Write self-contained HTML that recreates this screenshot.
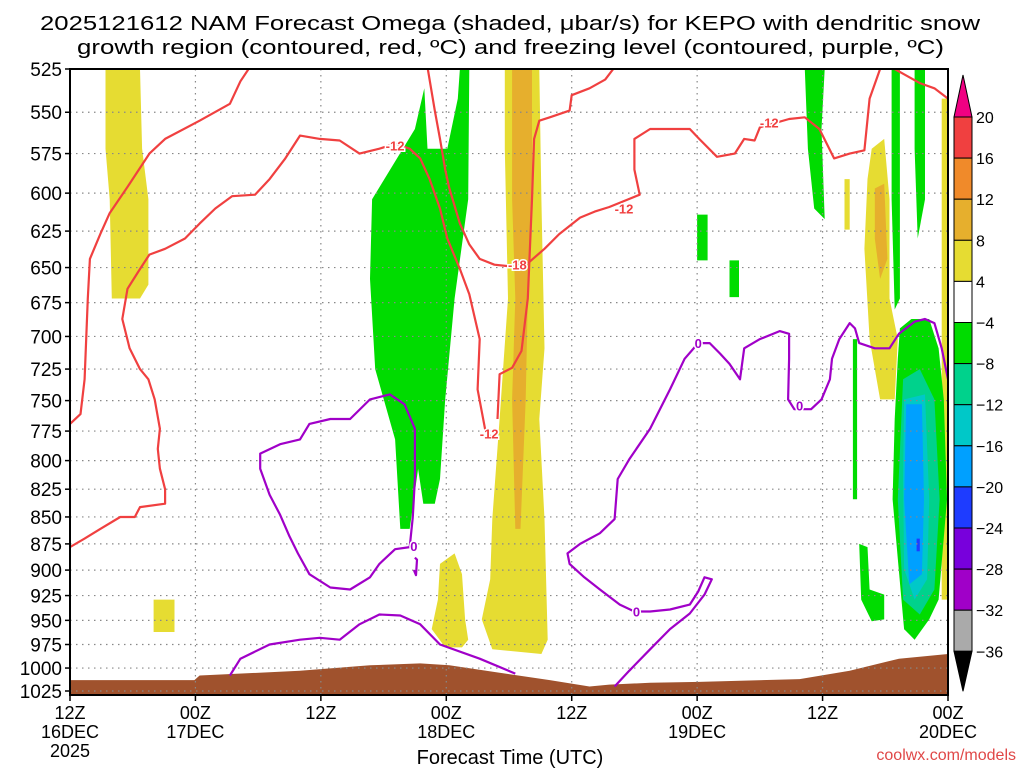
<!DOCTYPE html>
<html><head><meta charset="utf-8"><style>
html,body{margin:0;padding:0;background:#fff}
svg{display:block;font-family:"Liberation Sans","DejaVu Sans",sans-serif}
</style></head><body>
<svg id="chart" width="1024" height="768" viewBox="0 0 1024 768" xmlns="http://www.w3.org/2000/svg">
<defs><clipPath id="plotclip"><rect x="70" y="69" width="878" height="626"/></clipPath></defs>
<text x="40" y="30" font-size="20" textLength="940" lengthAdjust="spacingAndGlyphs">2025121612 NAM Forecast Omega (shaded, μbar/s) for KEPO with dendritic snow</text>
<text x="77" y="54" font-size="20" textLength="867" lengthAdjust="spacingAndGlyphs">growth region (contoured, red, ºC) and freezing level (contoured, purple, ºC)</text>
<g id="shading" clip-path="url(#plotclip)"></g>
<g id="ground" clip-path="url(#plotclip)"></g>
<g id="grid"></g>
<g id="contours" clip-path="url(#plotclip)"></g>
<g id="axes"></g>
<g id="colorbar"></g>
<text x="510" y="764" font-size="20" text-anchor="middle">Forecast Time (UTC)</text>
<text x="1016" y="760" font-size="16" text-anchor="end" fill="#e04848">coolwx.com/models</text>
</svg>
<script>
const pLevels=[525,550,575,600,625,650,675,700,725,750,775,800,825,850,875,900,925,950,975,1000,1025];
const timeHours=[0,12,24,36,48,60,72,84];
const timeLabels=[["12Z","16DEC","2025"],["00Z","17DEC"],["12Z"],["00Z","18DEC"],["12Z"],["00Z","19DEC"],["12Z"],["00Z","20DEC"]];
const cbLevels=[20,16,12,8,4,-4,-8,-12,-16,-20,-24,-28,-32,-36];
const cbColors=["#f04040","#f08a2a","#e6af2d","#e6dc32","#ffffff","#00dc00","#00d28c","#00c8c8","#00a0ff","#1e3cff","#7800dc","#a000c8","#aaaaaa"];
const yellowA=[[3.4,525],[6.7,525],[6.9,572],[7.5,604],[7.5,662],[6.7,672],[4.0,672],[3.8,604],[3.4,572]];
const yellowB=[[8.0,929],[10.0,929],[10.0,962],[8.0,962]];
const yellowC=[[35.4,894],[36.8,884],[37.5,904],[37.8,949],[38.1,970],[37.5,978],[35.9,978],[34.6,959],[35.2,929]];
const yellowD=[[41.6,525],[44.9,525],[45.1,604],[45.4,709],[44.9,765],[45.4,852],[45.7,970],[45.1,985],[40.4,980],[39.4,949],[40.2,909],[40.4,852],[41.1,765],[41.9,672],[41.6,572]];
const goldD=[[42.3,525],[44.2,525],[44.2,604],[43.8,672],[43.6,749],[43.1,861],[42.6,861],[42.3,749],[42.6,672],[42.3,604]];
const yellowE=[[76.7,572],[77.9,566],[78.4,604],[78.4,672],[79.2,702],[78.9,749],[77.5,749],[76.5,702],[76.0,637],[76.3,591]];
const goldE=[[77.0,597],[77.9,594],[78.2,644],[77.5,658],[77.0,630]];
const yellowF=[[74.1,591],[74.6,591],[74.6,624],[74.1,624]];
const yellowG=[[83.4,542],[84,542],[84,929],[83.4,929]];
const greenA=[[28.9,604],[33.0,560],[33.9,536],[34.2,572],[36.1,572],[37.1,542],[37.3,525],[38.2,525],[38.1,604],[36.8,672],[35.9,749],[35.4,816],[34.9,838],[33.8,838],[33.3,807],[32.5,861],[31.6,861],[31.1,782],[29.2,725],[28.7,658]];
const greenB=[[60,614],[61,614],[61,645],[60,645]];
const greenC=[[63.1,645],[64,645],[64,671],[63.1,671]];
const greenD=[[70.3,525],[72.2,525],[71.9,560],[72.2,617],[71.2,610],[70.6,572]];
const greenE=[[78.6,525],[79.4,525],[79.4,672],[78.9,680],[78.6,604]];
const greenF=[[80.8,525],[81.8,525],[81.8,604],[81.1,630],[80.8,572]];
const greenG=[[79.4,694],[80.5,687],[82.2,687],[83.1,709],[83.6,749],[83.9,834],[83.1,929],[82.2,949],[80.8,970],[79.8,959],[79.2,889],[78.7,834],[78.9,765],[79.2,717]];
const greenH=[[74.9,702],[75.3,702],[75.3,834],[74.9,834]];
const greenI=[[75.5,875],[76.3,878],[76.5,919],[77.9,924],[77.9,949],[76.7,951],[75.7,929]];
const tealG=[[79.7,733],[81.3,725],[82.7,749],[83.2,834],[82.7,919],[81.3,944],[79.7,929],[79.2,834]];
const cyanG=[[79.8,749],[81.8,745],[82.2,834],[82.0,909],[80.8,929],[79.8,899],[79.7,816]];
const lblueG=[[80.0,753],[81.5,753],[81.7,834],[81.5,904],[80.3,914],[79.8,834]];
const blueG=[[81.0,870],[81.3,870],[81.3,882],[81.0,882]];
const groundTop=[[0,1013],[11.9,1013],[12.4,1008],[22,1003],[28.7,997],[33.5,995],[36.3,997],[41.1,1005],[45.9,1013],[49.7,1020],[51.6,1018],[55.5,1016],[60.2,1015],[69.8,1012],[74.6,1003],[79.3,990],[84,985]];
const redA=[[0,769],[1,761],[1.4,733],[1.7,672],[1.9,644],[2.9,627],[3.8,613],[5.7,594],[7.6,575],[9.1,566],[12.4,555],[15.3,545],[16.3,532],[17.2,524]];
const redB=[[0,878],[1.4,870],[2.9,861],[4.8,850],[6.2,850],[6.7,841],[9.1,838],[9.1,825],[8.6,807],[8.4,790],[8.6,773],[8.1,749],[7.5,733],[6.7,725],[5.7,709],[5.0,687],[5.5,665],[6.7,651],[7.6,641],[9.1,637],[11.0,630],[12.4,620],[13.9,610],[15.5,602],[17.7,601],[19.1,591],[20.6,578],[22.0,564],[23.9,566],[25.8,567],[27.7,575],[29.6,572],[31.1,569],[32.5,572],[33.5,578],[34.4,591],[35.4,610],[36.1,630],[37.3,651],[38.2,669],[39.2,702],[39.0,741],[39.7,773],[40.2,779]];
const redC=[[34.2,524],[34.9,549],[35.4,566],[35.9,585],[36.3,597],[37.3,620],[38.2,634],[39.2,644],[40.6,648],[41.9,649]];
const redD=[[40.9,765],[41.1,729],[42.3,724],[43.2,711],[43.8,672],[44.0,637],[44.2,604],[44.4,566],[44.9,555],[45.9,553],[47.8,549],[48.0,540],[49.7,536],[51.2,531],[52.1,524]];
const redE=[[43.8,647],[45.4,637],[46.8,627],[48.8,616],[50.2,612],[51.6,609],[54.5,601],[54.0,585],[54.0,566],[55.5,560],[59.3,560],[60.2,566],[61.9,577],[63.6,575],[64.5,566],[65.5,567],[66.0,559],[68.8,554],[70.3,553],[71.7,560],[73.1,578],[74.6,575],[76.0,573],[76.5,542],[77.5,525]];
const redF=[[78.9,525],[79.8,528],[81.3,533],[82.7,536],[84,542]];
const purA=[[15.3,1008],[16.3,990],[19.1,975],[22,970],[23.9,968],[25.8,970],[27.7,954],[29.6,944],[31.6,945],[33.5,954],[35.4,975],[39.2,990],[42.6,1006]];
const purB=[[32.5,878],[31.1,880],[29.6,894],[28.7,907],[26.8,919],[24.9,917],[22.9,904],[21.8,884],[21.0,868],[20.1,848],[19.1,830],[18.2,807],[18.2,794],[20.1,786],[22.0,782],[22.9,769],[24.9,765],[26.8,765],[28.7,749],[30.6,745],[32.0,753],[33.0,773],[33.0,816],[32.8,850],[32.5,878]];
const purC=[[33.0,888],[33.2,890],[33.1,905],[32.9,900]];
const purD=[[52.1,1020],[53.5,1003],[55.5,980],[57.4,959],[59.3,943],[60.7,924],[61.4,909],[60.7,907],[60.1,921],[59.3,934],[57.4,939],[55.5,941],[54.0,941],[52.6,934],[50.7,919],[49.2,907],[47.8,894],[47.6,884],[48.8,875],[50.7,865],[52.1,852],[52.4,816],[53.5,799],[55.5,773],[57.4,741],[58.8,717],[60.1,705],[61.2,705],[62.2,713],[63.1,721],[64.1,733],[64.5,709],[66.0,702],[67.9,696],[68.8,698],[68.8,717],[68.7,749],[69.3,757],[70.9,757],[71.9,749],[72.7,733],[72.9,717],[73.6,702],[74.6,690],[75.1,694],[75.5,705],[77.0,709],[78.4,709],[79.3,698],[80.8,689],[81.8,687],[82.7,690],[83.4,709],[84,733]];
const redLabels=[["-12",31.1,570],["-12",40.1,777],["-12",53.0,610],["-18",42.8,648],["-12",66.9,556]];
const purLabels=[["0",60.1,705],["0",69.8,754],["0",54.2,941],["0",32.9,877]];

const SVGNS="http://www.w3.org/2000/svg";
const X0=70,X1=948,Y0=69,Y1=691;
const lp0=Math.log(525),lp1=Math.log(1025);
function xs(h){return X0+(h/84)*(X1-X0);}
function ys(p){return Y0+(Math.log(p)-lp0)/(lp1-lp0)*(Y1-Y0);}
function mk(tag,attrs,parent){const e=document.createElementNS(SVGNS,tag);for(const k in attrs)e.setAttribute(k,attrs[k]);parent.appendChild(e);return e;}
function pts(arr){return arr.map(d=>xs(d[0]).toFixed(1)+","+ys(d[1]).toFixed(1)).join(" ");}

const shading=document.getElementById('shading');
const regions=[[yellowA,3],[yellowB,3],[yellowC,3],[yellowD,3],[goldD,2],[yellowE,3],[goldE,2],[yellowF,3],[yellowG,3],
[greenA,5],[greenB,5],[greenC,5],[greenD,5],[greenE,5],[greenF,5],[greenG,5],[greenH,5],[greenI,5],[tealG,6],[cyanG,7],[lblueG,8],[blueG,9]];
regions.forEach(r=>{
  const e=mk('polygon',{points:pts(r[0]),fill:cbColors[r[1]]},shading);
  
  
});
const ground=document.getElementById('ground');
const gp=groundTop.concat([[84,1100],[0,1100]]);
const ge=mk('polygon',{points:pts(gp),fill:"#a0522d"},ground);



const grid=document.getElementById('grid');
pLevels.forEach(p=>{
  const g=mk('line',{x1:X0,x2:X1,y1:ys(p),y2:ys(p),stroke:"#888","stroke-width":1.2,"stroke-dasharray":"1.5,4.5"},grid);
  
  
});
timeHours.slice(1,-1).forEach(h=>{
  const g=mk('line',{x1:xs(h),x2:xs(h),y1:Y0,y2:695,stroke:"#888","stroke-width":1.2,"stroke-dasharray":"1.5,4.5"},grid);
  
  
});

const cont=document.getElementById('contours');
[redA,redB,redC,redD,redE,redF].forEach(a=>{
  const e=mk('polyline',{points:pts(a),fill:"none",stroke:"#f04040","stroke-width":2.2,"stroke-linejoin":"round"},cont);
  
  
});
[purA,purB,purC,purD].forEach(a=>{
  const e=mk('polyline',{points:pts(a),fill:"none",stroke:"#a000c8","stroke-width":2.2,"stroke-linejoin":"round"},cont);
  
  
});
redLabels.forEach(l=>{
  const t=mk('text',{x:xs(l[1]),y:ys(l[2])+5,"font-size":13,"font-weight":"bold","text-anchor":"middle",fill:"#f04040",stroke:"#fff","stroke-width":3,"paint-order":"stroke"},cont);
  t.textContent=l[0];
  
  
});
purLabels.forEach(l=>{
  const t=mk('text',{x:xs(l[1]),y:ys(l[2])+5,"font-size":13,"font-weight":"bold","text-anchor":"middle",fill:"#a000c8",stroke:"#fff","stroke-width":3,"paint-order":"stroke"},cont);
  t.textContent=l[0];
  
  
});

const axes=document.getElementById('axes');
const fr=mk('rect',{x:X0,y:Y0,width:X1-X0,height:695-Y0,fill:"none",stroke:"#000","stroke-width":2},axes);


pLevels.forEach(p=>{
  mk('line',{x1:X0-5,x2:X0,y1:ys(p),y2:ys(p),stroke:"#000","stroke-width":1.5},axes);
  const t=mk('text',{x:62,y:ys(p)+7,"font-size":19,"text-anchor":"end",fill:"#000"},axes);
  t.textContent=p;
  
  
});
timeHours.forEach((h,i)=>{
  mk('line',{x1:xs(h),x2:xs(h),y1:695,y2:701,stroke:"#000","stroke-width":1.5},axes);
  timeLabels[i].forEach((s,j)=>{
    const t=mk('text',{x:xs(h),y:719+j*19,"font-size":18,"text-anchor":"middle",fill:"#000"},axes);
    t.textContent=s;
    
    
  });
});

const cb=document.getElementById('colorbar');
const CBX=954,CBW=18,cbTop=117,cbStep=41.1;
const tri1=mk('polygon',{points:`${CBX},${cbTop} ${CBX+CBW},${cbTop} ${CBX+CBW/2},${cbTop-42}`,fill:"#f00082",stroke:"#000","stroke-width":1},cb);


cbColors.forEach((c,i)=>{
  const r=mk('rect',{x:CBX,y:cbTop+i*cbStep,width:CBW,height:cbStep,fill:c,stroke:"#000","stroke-width":1},cb);
  
  
});
const yb=cbTop+cbColors.length*cbStep;
const tri2=mk('polygon',{points:`${CBX},${yb} ${CBX+CBW},${yb} ${CBX+CBW/2},${yb+40}`,fill:"#000",stroke:"#000","stroke-width":1},cb);


cbLevels.forEach((v,i)=>{
  const t=mk('text',{x:976,y:cbTop+i*cbStep+6,"font-size":16,fill:"#000"},cb);
  t.textContent=v<0?"\u2212"+Math.abs(v):String(v);
  
  
});
</script>
</body></html>
